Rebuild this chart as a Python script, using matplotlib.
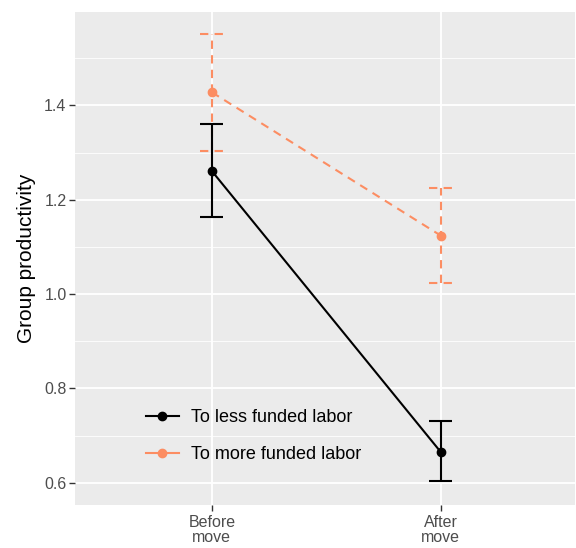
#!/usr/bin/env python
# -*- coding: utf-8 -*-

"""Group productivity before and after move."""

import matplotlib.pyplot as plt
from matplotlib.lines import Line2D
import numpy as np

plt.rcParams["font.family"] = ["Liberation Sans", "DejaVu Sans"]

periods = ["Before\nmove", "After\nmove"]
less_mean = [1.261, 0.665]
less_low = [1.163, 0.603]
less_high = [1.360, 0.730]
more_mean = [1.428, 1.124]
more_low = [1.304, 1.024]
more_high = [1.551, 1.225]

black = "#000000"
salmon = "#FC8D62"
panel = "#EBEBEB"

fig = plt.figure(figsize=(5.76, 5.48), dpi=100)
ax = fig.add_axes([0.130, 0.0785, 0.868, 0.8995])
ax.set_facecolor(panel)

x = np.arange(1, len(periods) + 1)

ax.set_xlim(0.402, 2.585)
ax.set_ylim(0.553, 1.598)

ax.set_yticks([0.6, 0.8, 1.0, 1.2, 1.4])
ax.set_yticks([0.7, 0.9, 1.1, 1.3, 1.5], minor=True)
ax.set_xticks(x)
ax.set_xticklabels(periods, linespacing=1.0, fontsize=12)
ax.grid(which="major", color="white", linewidth=1.3)
ax.grid(which="minor", axis="y", color="white", linewidth=0.6)
ax.set_axisbelow(True)
for s in ax.spines.values():
    s.set_visible(False)
ax.tick_params(which="major", length=4, width=1, color="#333333",
               labelcolor="#4D4D4D", labelsize=11.5, pad=2)
ax.tick_params(axis="x", pad=3)
ax.tick_params(which="minor", length=0)
ax.set_ylabel("Group productivity", fontsize=15, labelpad=6)

cap = 0.05
for mean, lo, hi, col, ls in [
    (more_mean, more_low, more_high, salmon, (0, (4, 3))),
    (less_mean, less_low, less_high, black, "-"),
]:
    ax.vlines(x, lo, hi, color=col, linestyle=ls, linewidth=1.5)
    ax.hlines(lo, x - cap, x + cap, color=col, linestyle=ls, linewidth=1.5)
    ax.hlines(hi, x - cap, x + cap, color=col, linestyle=ls, linewidth=1.5)
    ax.plot(x, mean, color=col, linestyle=ls, linewidth=1.5, marker="o",
            markersize=6)

handles = [
    Line2D([], [], color=black, linewidth=1.5, marker="o", markersize=6),
    Line2D([], [], color=salmon, linewidth=1.5, marker="o", markersize=6),
]
labels = ["To less funded labor", "To more funded labor"]
ax.legend(handles, labels, loc="lower left",
          bbox_to_anchor=(0.11, 0.052), frameon=False, fontsize=13,
          handlelength=1.8, handletextpad=0.7, labelspacing=1.1)

fig.savefig("out.png", dpi=100)
